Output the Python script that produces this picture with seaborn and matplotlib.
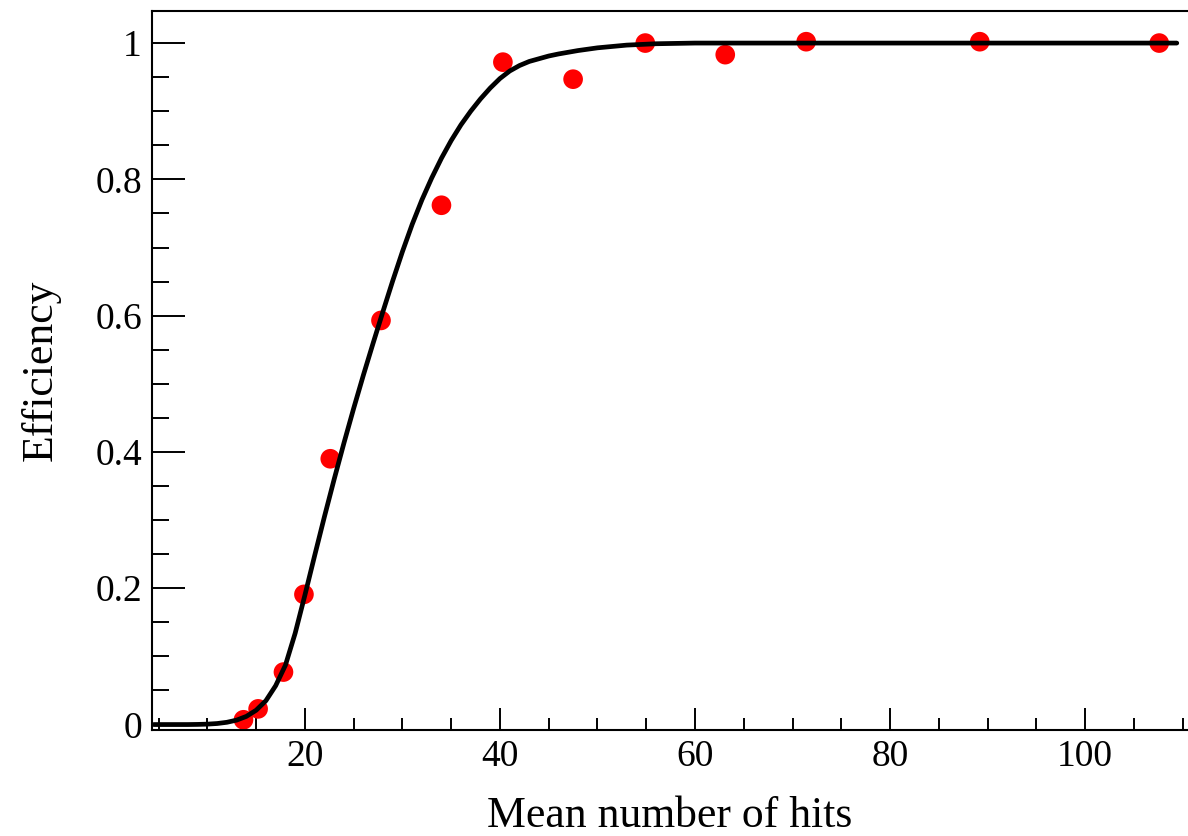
import matplotlib
matplotlib.use("Agg")
import matplotlib.pyplot as plt
from matplotlib.ticker import MultipleLocator
import seaborn as sns
import pandas as pd

# measured data points
hits = [13.7, 15.2, 17.8, 19.9, 22.6, 27.8, 34.0, 40.3, 47.5, 54.9, 63.1, 71.4, 89.2, 107.6]
efficiency = [0.007, 0.023, 0.077, 0.191, 0.390, 0.593, 0.762, 0.972, 0.947, 1.000, 0.983, 1.002, 1.002, 1.000]

# fitted curve
curve_x = [4.5, 8, 9, 10, 11, 12, 13, 14, 15, 16, 17, 18, 19, 20, 21, 22, 23, 24, 25,
           26, 27, 28, 29, 30, 31, 32, 33, 34, 35, 36, 37, 38, 39, 40, 41, 42, 43, 44,
           45, 46, 48, 50, 53, 56, 60, 109.4]
curve_y = [0.0, 0.0, 0.0002, 0.0006, 0.0015, 0.0033, 0.0065, 0.012, 0.021, 0.035, 0.057,
           0.087, 0.134, 0.190, 0.248, 0.305, 0.360, 0.413, 0.464, 0.513, 0.560, 0.606,
           0.651, 0.694, 0.734, 0.770, 0.802, 0.831, 0.857, 0.880, 0.900, 0.918, 0.934,
           0.948, 0.959, 0.967, 0.973, 0.977, 0.981, 0.984, 0.989, 0.993, 0.997, 0.999,
           1.0, 1.0]

x_ticks = [20, 40, 60, 80, 100]
y_ticks = [0, 0.2, 0.4, 0.6, 0.8, 1]
y_tick_labels = ["0", "0.2", "0.4", "0.6", "0.8", "1"]

sns.set_style("white")
plt.rcParams["font.family"] = ["Liberation Serif", "DejaVu Serif"]
plt.rcParams["text.color"] = "black"
plt.rcParams["axes.labelcolor"] = "black"
plt.rcParams["xtick.color"] = "black"
plt.rcParams["ytick.color"] = "black"

pts = pd.DataFrame({"hits": hits, "eff": efficiency})
crv = pd.DataFrame({"x": curve_x, "y": curve_y})

fig = plt.figure(figsize=(11.88, 8.36), dpi=100)
ax = fig.add_axes([0.1277, 0.1268, 0.8723, 0.86])

sns.scatterplot(data=pts, x="hits", y="eff", ax=ax, color="#ff0000", s=200,
                edgecolor="none", linewidth=0, zorder=2)
sns.lineplot(data=crv, x="x", y="y", ax=ax, color="black", linewidth=3.4,
             zorder=3, sort=True)
ax.lines[-1].set_solid_joinstyle("round")

ax.set_xlim(4.29, 110.55)
ax.set_ylim(-0.008, 1.047)

ax.set_xticks(x_ticks)
ax.set_xticklabels([str(t) for t in x_ticks])
ax.xaxis.set_minor_locator(MultipleLocator(5))
ax.set_yticks(y_ticks)
ax.set_yticklabels(y_tick_labels)
ax.yaxis.set_minor_locator(MultipleLocator(0.05))

ax.tick_params(axis="x", which="major", direction="in", length=15.8, width=1.4,
               labelsize=27, pad=7, colors="black", top=False, bottom=True)
ax.tick_params(axis="x", which="minor", direction="in", length=8.6, width=1.4,
               top=False, bottom=True, colors="black")
ax.tick_params(axis="y", which="major", direction="in", length=23.8, width=1.4,
               labelsize=27, pad=7, left=True, right=False, colors="black")
ax.tick_params(axis="y", which="minor", direction="in", length=12.2, width=1.4,
               left=True, right=False, colors="black")

for side in ["left", "bottom", "top"]:
    ax.spines[side].set_visible(True)
    ax.spines[side].set_linewidth(1.5)
    ax.spines[side].set_color("black")
ax.spines["right"].set_visible(False)

ax.set_xlabel("Mean number of hits", fontsize=31.5, labelpad=16, color="black")
ax.set_ylabel("Efficiency", fontsize=31.5, labelpad=25, color="black")
ax.grid(False)

fig.savefig("out.png", dpi=100)
